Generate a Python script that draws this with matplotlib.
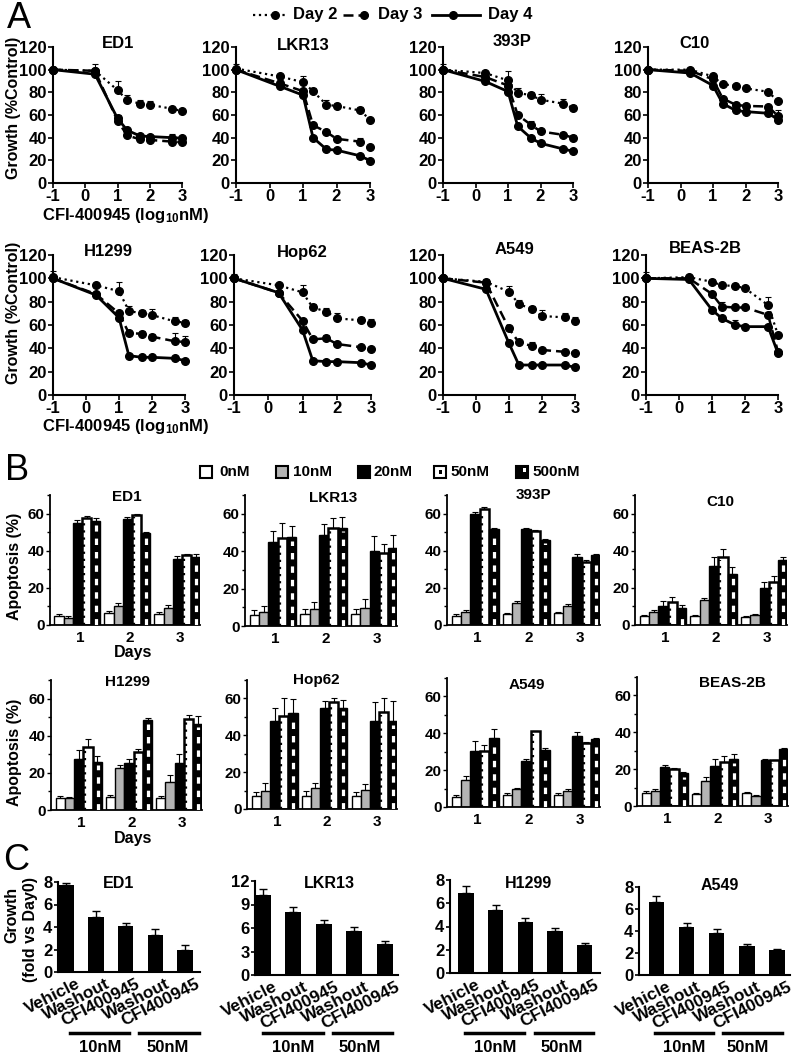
import matplotlib
matplotlib.use("Agg")
import matplotlib.pyplot as plt
import numpy as np
from matplotlib.patches import Rectangle
from matplotlib.lines import Line2D
from matplotlib.ticker import MultipleLocator
import matplotlib.transforms as mtransforms

plt.rcParams["font.family"] = ["Liberation Sans", "DejaVu Sans"]
plt.rcParams["font.weight"] = "bold"
plt.rcParams["axes.unicode_minus"] = False
plt.rcParams["mathtext.fontset"] = "custom"
plt.rcParams["mathtext.bf"] = "Liberation Sans:bold"
plt.rcParams["mathtext.rm"] = "Liberation Sans:bold"
plt.rcParams["mathtext.default"] = "bf"

# ---------------- data ----------------
cell_lines = ["ED1", "LKR13", "393P", "C10", "H1299", "Hop62", "A549", "BEAS-2B"]

# panel A: growth (% control) vs log10 nM
conc_log = [-1, 0.3, 1.0, 1.3, 1.7, 2.0, 2.7, 3.0]
growth_day2 = {
    "ED1": [100, 99, 82, 73, 70, 69, 65.5, 63.5],
    "LKR13": [101, 94, 89, 81, 69, 68, 64, 56],
    "393P": [100, 97, 90.5, 79.5, 77.5, 73.5, 70, 66],
    "C10": [100, 100, 94, 87, 86, 83.5, 80.5, 72],
    "H1299": [101, 94, 89, 72, 70, 68.5, 63, 62],
    "Hop62": [100, 94, 88, 75, 71.5, 65.7, 64, 62],
    "A549": [100, 97, 88.5, 78, 73.5, 67.7, 66.5, 63.5],
    "BEAS-2B": [100, 101, 97, 94, 93.5, 91.5, 77, 51.5],
}
growth_day2_err = {
    "ED1": [2, 6, 8, 5, 3, 3, 2, 2],
    "LKR13": [4, 1, 5, 3, 4, 3, 3, 1],
    "393P": [5, 2, 8, 4, 3, 5, 4, 3],
    "C10": [1, 1, 1, 1, 1, 2, 1, 2],
    "H1299": [5, 1, 8, 4, 3, 5, 4, 2],
    "Hop62": [4, 1, 6, 3, 3, 5, 3, 3],
    "A549": [2, 2, 5, 3, 3, 5, 4, 3],
    "BEAS-2B": [5, 1, 2, 2, 2, 1, 7, 1],
}
growth_day3 = {
    "ED1": [100, 99, 55, 42, 38.5, 38, 36.5, 36],
    "LKR13": [100, 88, 81, 51, 45, 39, 36.5, 31.5],
    "393P": [100, 93.5, 86, 60, 51.5, 45.5, 42.5, 40],
    "C10": [100, 99, 91.5, 74.5, 69, 68, 67.5, 59],
    "H1299": [100, 86.5, 70, 53, 52.5, 50, 46, 45.5],
    "Hop62": [100, 87.7, 63.7, 47.7, 48.6, 43.7, 41, 39],
    "A549": [100, 96.3, 57, 45, 42, 38.6, 37, 35.7],
    "BEAS-2B": [100, 100, 86.6, 75.7, 75, 75, 68.6, 37],
}
growth_day3_err = {
    "ED1": [2, 1, 4, 2, 1, 1, 2, 1],
    "LKR13": [2, 1, 2, 1, 1, 1, 3, 1],
    "393P": [2, 1, 2, 1, 3, 2, 2, 2],
    "C10": [1, 1, 1, 1, 1, 1, 1, 5],
    "H1299": [1, 1, 1, 2, 2, 2, 7, 5],
    "Hop62": [1, 1, 1, 1, 3, 1, 2, 2],
    "A549": [1, 1, 1, 1, 3, 1, 1, 1],
    "BEAS-2B": [1, 1, 1, 4, 1, 1, 2, 1],
}
growth_day4 = {
    "ED1": [100, 96, 57, 46.5, 41.5, 41, 40, 39.5],
    "LKR13": [100, 85.4, 77.5, 40, 29.7, 29, 24, 19.8],
    "393P": [100, 89.6, 80.7, 50, 39.8, 35, 30, 28],
    "C10": [100, 97, 86, 70, 64, 63, 61.5, 56],
    "H1299": [100, 85.7, 66.3, 33.7, 32.3, 32.3, 31.4, 29.4],
    "Hop62": [100, 87.7, 55.7, 29.4, 28.6, 28.6, 27.7, 25.7],
    "A549": [100, 90.6, 44.3, 25.7, 25.7, 25.7, 25.7, 23.7],
    "BEAS-2B": [100, 99, 72.9, 65.7, 60, 58.6, 58.6, 35.7],
}
growth_day4_err = {
    "ED1": [1, 2, 3, 1, 1, 1, 3, 2],
    "LKR13": [1, 1, 1, 1, 1, 1, 1, 1],
    "393P": [1, 1, 1, 1, 1, 1, 1, 2],
    "C10": [1, 1, 1, 1, 1, 1, 1, 2],
    "H1299": [1, 1, 1, 1, 1, 1, 2, 1],
    "Hop62": [1, 1, 1, 1, 1, 1, 1, 2],
    "A549": [1, 1, 1, 1, 1, 1, 1, 1],
    "BEAS-2B": [1, 1, 2, 1, 4, 1, 1, 2],
}

# panel B: apoptosis (%) on days 1-3
days = [1, 2, 3]
doses = ["0nM", "10nM", "20nM", "50nM", "500nM"]
apop_0nM = {"ED1": [5, 6.5, 6], "LKR13": [6, 6.5, 6.5], "393P": [5, 6, 6.5], "C10": [5, 5, 4.5],
            "H1299": [6.5, 7, 6.5], "Hop62": [7, 7, 7], "A549": [5.5, 6.5, 6.5], "BEAS-2B": [7, 6.5, 7]}
apop_10nM = {"ED1": [4, 10, 9], "LKR13": [7.5, 9, 9.5], "393P": [7, 12, 10.5], "C10": [7, 13.5, 5.5],
             "H1299": [6.5, 22.5, 15], "Hop62": [9.5, 11.5, 10.5], "A549": [14.5, 9.5, 8.5], "BEAS-2B": [8, 13.5, 5.5]}
apop_20nM = {"ED1": [55, 57, 35.5], "LKR13": [45, 48.5, 40], "393P": [60, 51.5, 36.5], "C10": [10.5, 32, 20],
             "H1299": [27.5, 25.5, 25.5], "Hop62": [48, 55, 48], "A549": [30.5, 25, 38.5], "BEAS-2B": [21, 21.5, 25]}
apop_50nM = {"ED1": [57.5, 59.5, 37.5], "LKR13": [47, 52.5, 39], "393P": [62.5, 50.5, 34], "C10": [12.5, 36.5, 23],
             "H1299": [34, 31.5, 49], "Hop62": [50.5, 58, 52.5], "A549": [30.5, 41, 34.5], "BEAS-2B": [20, 24, 25]}
apop_500nM = {"ED1": [56, 49.5, 36.5], "LKR13": [47.5, 52.5, 41.5], "393P": [51.5, 46, 37.5], "C10": [9, 27.5, 35],
              "H1299": [26, 48.5, 46.5], "Hop62": [52, 55, 47.5], "A549": [37.5, 31, 37], "BEAS-2B": [18, 25.5, 31]}
apop_0nM_err = {"ED1": [1, 1, 1], "LKR13": [2.5, 2.5, 2.5], "393P": [1, 0.5, 0.5], "C10": [0.5, 0.5, 0.5],
                "H1299": [1, 1, 1], "Hop62": [2, 3, 2], "A549": [1, 1, 1], "BEAS-2B": [1, 0.5, 0.5]}
apop_10nM_err = {"ED1": [1, 2, 2], "LKR13": [3, 4, 5], "393P": [1, 1, 1], "C10": [1, 1, 0.5],
                 "H1299": [0.5, 1.5, 4], "Hop62": [4.5, 2.5, 3], "A549": [2.5, 1, 1], "BEAS-2B": [1, 2.5, 0.5]}
apop_20nM_err = {"ED1": [1.5, 1, 1.5], "LKR13": [6, 6, 8], "393P": [1, 1, 2], "C10": [2.5, 4.5, 3],
                 "H1299": [5, 2, 4.5], "Hop62": [7, 3.5, 10], "A549": [5.5, 1, 2], "BEAS-2B": [1, 4, 0.5]}
apop_50nM_err = {"ED1": [1, 0.5, 0.5], "LKR13": [8, 5, 5], "393P": [1, 0.5, 1], "C10": [2.5, 4.5, 3.5],
                 "H1299": [4.5, 1.5, 2], "Hop62": [9.5, 2, 8], "A549": [3, 0.5, 1], "BEAS-2B": [0.5, 3, 0.1]}
apop_500nM_err = {"ED1": [1.5, 0.5, 1.5], "LKR13": [6, 5.5, 7], "393P": [1, 0.5, 0.5], "C10": [2, 4, 1.5],
                  "H1299": [3, 1, 4], "Hop62": [7.5, 4, 11], "A549": [5, 1, 0.5], "BEAS-2B": [0.5, 2.5, 0.3]}

# panel C: growth fold vs day 0
treatments = ["Vehicle", "Washout", "CFI400945", "Washout", "CFI400945"]
fold_cells = ["ED1", "LKR13", "H1299", "A549"]
fold_growth = {"ED1": [7.7, 4.85, 4.05, 3.25, 2.0], "LKR13": [10.2, 8.0, 6.5, 5.6, 4.0],
               "H1299": [6.9, 5.4, 4.35, 3.6, 2.45], "A549": [6.6, 4.4, 3.8, 2.6, 2.25]}
fold_growth_err = {"ED1": [0.2, 0.55, 0.35, 0.55, 0.4], "LKR13": [0.8, 0.7, 0.5, 0.5, 0.3],
                   "H1299": [0.6, 0.45, 0.35, 0.3, 0.15], "A549": [0.55, 0.35, 0.35, 0.25, 0.15]}
fold_ymax = {"ED1": 8, "LKR13": 12, "H1299": 8, "A549": 8}
fold_yticks = {"ED1": [0, 2, 4, 6, 8], "LKR13": [0, 3, 6, 9, 12], "H1299": [0, 2, 4, 6, 8], "A549": [0, 2, 4, 6, 8]}

# ---------------- layout (pixels) ----------------
W, H = 796, 1059
fig = plt.figure(figsize=(W / 100, H / 100), dpi=100)


def px_axes(left, top, right, bottom):
    return fig.add_axes([left / W, 1 - bottom / H, (right - left) / W, (bottom - top) / H])


def ftext(x, y, s, **kw):
    kw.setdefault("ha", "center")
    kw.setdefault("va", "center")
    return fig.text(x / W, 1 - y / H, s, **kw)


def style_axes(ax, lw=1.5):
    for s in ["top", "right"]:
        ax.spines[s].set_visible(False)
    for s in ["left", "bottom"]:
        ax.spines[s].set_linewidth(lw)


# panel A
boxes_A = {
    "ED1": (53, 47, 182, 183), "LKR13": (236, 47, 370, 183), "393P": (443, 47, 573, 183), "C10": (648, 47, 778, 183),
    "H1299": (53, 255, 185, 395), "Hop62": (234, 255, 371, 395), "A549": (443, 255, 575, 395), "BEAS-2B": (646, 255, 778, 395),
}
title_A = {"ED1": (118, 43), "LKR13": (303, 45), "393P": (512, 41), "C10": (694, 43),
           "H1299": (108, 252), "Hop62": (302, 252), "A549": (514, 250), "BEAS-2B": (705, 248)}
day_styles = [("Day 2", growth_day2, growth_day2_err, ":", 1.6),
              ("Day 3", growth_day3, growth_day3_err, (0, (4, 2)), 1.8),
              ("Day 4", growth_day4, growth_day4_err, "-", 2.0)]

for cell in cell_lines:
    ax = px_axes(*boxes_A[cell])
    for label, vals, errs, ls, lw in day_styles:
        y = np.array(vals[cell])
        e = np.array(errs[cell])
        ax.errorbar(conc_log, y, yerr=[np.zeros_like(e), e], fmt="none", ecolor="black",
                    elinewidth=0.8, capsize=2.2, capthick=0.8, clip_on=False)
        ax.plot(conc_log, y, color="black", linestyle=ls, lw=lw, marker="o", ms=5.5, clip_on=False, zorder=3)
    ax.set_xlim(-1, 3)
    ax.set_ylim(0, 120)
    ax.set_xticks([-1, 0, 1, 2, 3])
    ax.set_yticks(range(0, 121, 20))
    ax.tick_params(labelsize=12, length=3.5, width=1.2, pad=1)
    ax.tick_params(axis="x", pad=0.5)
    style_axes(ax)
    ftext(*title_A[cell], cell, fontsize=12, fontweight="bold")

for y0 in (108, 313):
    ftext(14, y0, "Growth (%Control)", rotation=90, fontsize=11.5, fontweight="bold")
for y0 in (215, 426):
    ftext(126, y0, r"CFI-400945 (log$_{10}$nM)", fontsize=12, fontweight="bold")

# A legend
leg_items = [(253, 288, 275, 293, "Day 2", ":", 1.6), (343, 373, 364, 378, "Day 3", (0, (4, 2)), 1.8),
             (432, 480, 453, 488, "Day 4", "-", 2.0)]
for x0, x1, xm, xt, lab, ls, lw in leg_items:
    fig.add_artist(Line2D([x0 / W, x1 / W], [1 - 15 / H, 1 - 15 / H], color="black", linestyle=ls, lw=lw,
                          transform=fig.transFigure))
    fig.add_artist(Line2D([xm / W], [1 - 15 / H], color="black", marker="o", ms=5.5, transform=fig.transFigure))
    ftext(xt, 15, lab, ha="left", fontsize=12, fontweight="bold")

# panel B
boxes_B = {
    "ED1": (50, 495, 200, 625), "LKR13": (245, 495, 397, 626), "393P": (447, 495, 600, 625), "C10": (635, 495, 787, 625),
    "H1299": (51, 680, 202, 810), "Hop62": (247, 680, 397, 809), "A549": (447, 678, 600, 807), "BEAS-2B": (637, 677, 788, 806),
}
title_B = {"ED1": (127, 497), "LKR13": (333, 498), "393P": (533, 495), "C10": (720, 502),
           "H1299": (127, 682), "Hop62": (316, 680), "A549": (527, 685), "BEAS-2B": (732, 683)}
dose_vals = [apop_0nM, apop_10nM, apop_20nM, apop_50nM, apop_500nM]
dose_errs = [apop_0nM_err, apop_10nM_err, apop_20nM_err, apop_50nM_err, apop_500nM_err]
bw = 0.184

for cell in cell_lines:
    ax = px_axes(*boxes_B[cell])
    for i in range(5):
        x = np.array(days) + (i - 2) * bw
        v = np.array(dose_vals[i][cell])
        e = np.array(dose_errs[i][cell])
        ax.errorbar(x, v, yerr=[np.zeros_like(e), e], fmt="none", ecolor="black",
                    elinewidth=0.8, capsize=2, capthick=0.8, zorder=1)
        if i == 0:
            ax.bar(x, v, bw, color="white", edgecolor="black", lw=1, zorder=2)
        elif i == 1:
            ax.bar(x, v, bw, color="#b4b4b4", edgecolor="black", lw=1, zorder=2)
        elif i == 2:
            ax.bar(x, v, bw, color="black", edgecolor="black", lw=1, zorder=2)
        elif i == 3:
            ax.bar(x, v, bw, color="white", edgecolor="black", lw=1.8, zorder=2)
            ax.vlines(x - bw * 0.28, 0, v - 1.5, colors="black", linestyles=(0, (1, 2.2)), lw=1.6, zorder=3)
        else:
            ax.bar(x, v, bw, color="black", edgecolor="black", lw=1, zorder=2)
            ax.vlines(x + bw * 0.05, 0, v - 2, colors="white", linestyles=(0, (2, 2.2)), lw=2.3, zorder=3)
    ax.set_xlim(0.45, 3.45)
    ax.set_ylim(0, 70)
    ax.set_yticks([0, 20, 40, 60])
    ax.yaxis.set_minor_locator(MultipleLocator(10))
    ax.set_xticks([d + 0.05 for d in days])
    ax.set_xticklabels([str(d) for d in days])
    ax.tick_params(axis="x", length=0, labelsize=11, pad=4)
    ax.tick_params(axis="y", which="major", length=3, width=1, labelsize=11, pad=1)
    ax.tick_params(axis="y", which="minor", length=2, width=1)
    style_axes(ax, 1.3)
    ftext(*title_B[cell], cell, fontsize=11, fontweight="bold")

for y0 in (566, 752):
    ftext(15, y0, "Apoptosis (%)", rotation=90, fontsize=11.5, fontweight="bold")
for y0 in (653, 838):
    ftext(133, y0, "Days", fontsize=11.5, fontweight="bold")

# B legend boxes
leg_B = [(206, 219, "0nM"), (282, 293, "10nM"), (364, 374, "20nM"), (440, 450, "50nM"), (522, 532, "500nM")]
for k, (xb, xt, lab) in enumerate(leg_B):
    s = 12
    y_top = 472 - s / 2
    face = ["white", "#b4b4b4", "black", "white", "black"][k]
    fig.add_artist(Rectangle((xb / W - s / 2 / W, 1 - (y_top + s) / H), s / W, s / H, facecolor=face,
                             edgecolor="black", lw=1.5, transform=fig.transFigure))
    if k == 3:
        fig.add_artist(Rectangle(((xb - 1.5) / W, 1 - (472 + 1.5) / H), 3 / W, 3 / H, facecolor="black",
                                 edgecolor="none", transform=fig.transFigure))
    if k == 4:
        fig.add_artist(Rectangle(((xb + 0.5) / W, 1 - (y_top + 6) / H), 3.5 / W, 4 / H, facecolor="white",
                                 edgecolor="none", transform=fig.transFigure))
    ftext(xt, 472, lab, ha="left", fontsize=11, fontweight="bold")

# panel C
boxes_C = {"ED1": (58, 882, 200, 972), "LKR13": (255, 881, 398, 975),
           "H1299": (450, 880, 600, 973), "A549": (639, 887, 790, 975)}
xlim_C = {"ED1": (-0.27, 4.5), "LKR13": (-0.25, 4.43), "H1299": (-0.54, 4.52), "A549": (-0.58, 4.44)}
title_C = {"ED1": (119, 883), "LKR13": (329, 883), "H1299": (529, 883), "A549": (720, 885)}
lines_C = {"ED1": [(70, 129, 100, "10nM"), (139, 199, 168, "50nM")],
           "LKR13": [(263, 323, 293, "10nM"), (333, 392, 360, "50nM")],
           "H1299": [(465, 524, 495, "10nM"), (535, 593, 562, "50nM")],
           "A549": [(655, 713, 684, "10nM"), (723, 782, 748, "50nM")]}

for cell in fold_cells:
    ax = px_axes(*boxes_C[cell])
    xs = np.arange(len(treatments))
    v = np.array(fold_growth[cell])
    e = np.array(fold_growth_err[cell])
    ax.errorbar(xs, v, yerr=[np.zeros_like(e), e], fmt="none", ecolor="black",
                elinewidth=1, capsize=3, capthick=1, zorder=1)
    ax.bar(xs, v, 0.52, color="black", zorder=2)
    ax.set_xlim(*xlim_C[cell])
    ax.set_ylim(0, fold_ymax[cell])
    ax.set_yticks(fold_yticks[cell])
    ax.set_xticks(xs)
    ax.set_xticklabels(treatments, rotation=27, ha="right", rotation_mode="anchor")
    ax.tick_params(axis="x", length=0, labelsize=12.5, pad=3)
    ax.tick_params(axis="y", length=3, width=1.2, labelsize=12, pad=1)
    offset = mtransforms.ScaledTranslation(10 / 100, 0, fig.dpi_scale_trans)
    for lbl in ax.get_xticklabels():
        lbl.set_transform(lbl.get_transform() + offset)
    style_axes(ax)
    ftext(*title_C[cell], cell, fontsize=11.5, fontweight="bold")
    for x0, x1, xt, lab in lines_C[cell]:
        fig.add_artist(Line2D([x0 / W, x1 / W], [1 - 1033 / H, 1 - 1033 / H], color="black", lw=2.5,
                              transform=fig.transFigure))
        ftext(xt, 1047, lab, fontsize=12, fontweight="bold")

ftext(12, 915, "Growth", rotation=90, fontsize=11.5, fontweight="bold")
ftext(31, 930, "(fold vs Day0)", rotation=90, fontsize=11.5, fontweight="bold")

# panel letters
ftext(19, 18, "A", fontsize=26, fontweight="normal")
ftext(17, 470, "B", fontsize=26, fontweight="normal")
ftext(16, 860, "C", fontsize=26, fontweight="normal")

fig.savefig("out.png", dpi=100)
